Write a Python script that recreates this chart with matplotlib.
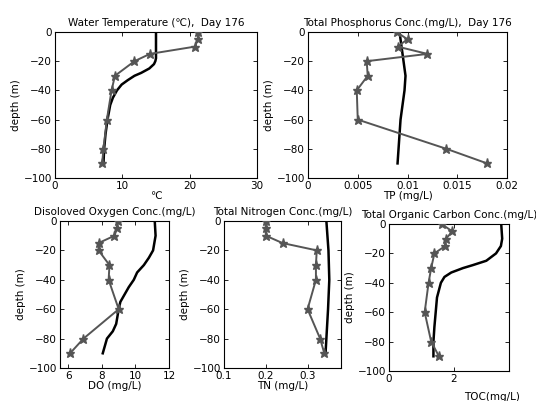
import matplotlib
matplotlib.use("Agg")
import matplotlib.pyplot as plt

plt.rcParams['font.family'] = ['DejaVu Sans']
plt.rcParams['font.size'] = 7.5

# observed profile depths (m)
obs_depth = [0, -5, -10, -15, -20, -30, -40, -60, -80, -90]

# water temperature
temp_obs = [21.3, 21.2, 20.8, 14.1, 11.8, 8.9, 8.4, 7.7, 7.2, 7.0]
temp_mod_depth = [0, -18, -20, -22, -25, -28, -30, -33, -36, -40, -45, -50, -60, -70, -80, -90]
temp_mod = [15.0, 15.0, 14.9, 14.7, 14.0, 12.8, 11.8, 10.8, 9.9, 9.2, 8.6, 8.2, 7.8, 7.5, 7.3, 7.2]

# total phosphorus
tp_obs = [0.0089, 0.0100, 0.0090, 0.0120, 0.0059, 0.0060, 0.0049, 0.0050, 0.0139, 0.0180]
tp_mod_depth = [0, -10, -20, -30, -40, -50, -60, -70, -80, -90]
tp_mod = [0.0092, 0.0094, 0.0096, 0.0098, 0.0097, 0.0095, 0.0093, 0.0092, 0.0091, 0.0090]

# dissolved oxygen
do_obs = [8.95, 8.9, 8.75, 7.8, 7.8, 8.45, 8.4, 9.0, 6.9, 6.1]
do_mod_depth = [0, -10, -20, -25, -30, -35, -40, -45, -50, -55, -60, -70, -75, -80, -90]
do_mod = [11.15, 11.2, 11.05, 10.8, 10.5, 10.1, 9.9, 9.6, 9.35, 9.1, 9.0, 8.85, 8.65, 8.3, 8.05]

# total nitrogen
tn_obs = [0.20, 0.20, 0.20, 0.24, 0.322, 0.32, 0.32, 0.30, 0.33, 0.34]
tn_mod_depth = [0, -20, -40, -60, -80, -90]
tn_mod = [0.345, 0.350, 0.352, 0.349, 0.345, 0.343]

# total organic carbon
toc_obs = [1.62, 1.95, 1.76, 1.73, 1.40, 1.30, 1.22, 1.10, 1.30, 1.54]
toc_mod_depth = [0, -10, -15, -20, -25, -28, -30, -33, -36, -40, -45, -50, -60, -70, -80, -90]
toc_mod = [3.46, 3.49, 3.45, 3.30, 3.00, 2.58, 2.28, 1.92, 1.71, 1.60, 1.54, 1.48, 1.44, 1.40, 1.37, 1.37]

depth_ticks = [0, -20, -40, -60, -80, -100]

panels = [
    # rect, obs, model depth, model, xlim, xticks, xticklabels, title, xlabel
    ([55/536, 223/401, 202/536, 146/401], temp_obs, temp_mod_depth, temp_mod,
     (0, 30), [0, 10, 20, 30], ['0', '10', '20', '30'],
     'Water Temperature (\u2103),  Day 176', '\u2103'),
    ([308/536, 223/401, 199/536, 146/401], tp_obs, tp_mod_depth, tp_mod,
     (0, 0.02), [0, 0.005, 0.01, 0.015, 0.02], ['0', '0.005', '0.01', '0.015', '0.02'],
     'Total Phosphorus Conc.(mg/L),  Day 176', 'TP (mg/L)'),
    ([60/536, 33/401, 109/536, 147/401], do_obs, do_mod_depth, do_mod,
     (5.5, 12), [6, 8, 10, 12], ['6', '8', '10', '12'],
     'Disoloved Oxygen Conc.(mg/L)', 'DO (mg/L)'),
    ([224/536, 33/401, 117/536, 147/401], tn_obs, tn_mod_depth, tn_mod,
     (0.1, 0.38), [0.1, 0.2, 0.3], ['0.1', '0.2', '0.3'],
     'Total Nitrogen Conc.(mg/L)', 'TN (mg/L)'),
    ([389/536, 30/401, 120/536, 147/401], toc_obs, toc_mod_depth, toc_mod,
     (0, 3.7), [0, 2], ['0', '2'],
     'Total Organic Carbon Conc.(mg/L)', 'TOC(mg/L)'),
]

fig = plt.figure(figsize=(5.36, 4.01), dpi=100)

for i, (rect, obs, mdep, mod, xlim, xt, xtl, title, xlabel) in enumerate(panels):
    ax = fig.add_axes(rect)
    ax.plot(mod, mdep, color='black', lw=1.8, zorder=2)
    ax.plot(obs, obs_depth, color='#555555', lw=1.4, marker='*', ms=6.5,
            mfc='#555555', mec='#555555', zorder=3)
    ax.set_xlim(*xlim)
    ax.set_ylim(-100, 0)
    ax.set_xticks(xt)
    ax.set_xticklabels(xtl)
    ax.set_yticks(depth_ticks)
    ax.tick_params(direction='in', top=True, right=True, length=3, width=0.6, pad=2)
    for s in ax.spines.values():
        s.set_linewidth(0.8)
    ax.set_title(title, pad=4, fontsize=7.5)
    ax.set_ylabel('depth (m)', labelpad=2)
    ax.set_xlabel(xlabel, labelpad=0)
    if i == 4:
        # TOC label sits low and to the right in the reference
        ax.xaxis.set_label_coords(0.86, -0.14)

fig.savefig('out.png', dpi=100)
